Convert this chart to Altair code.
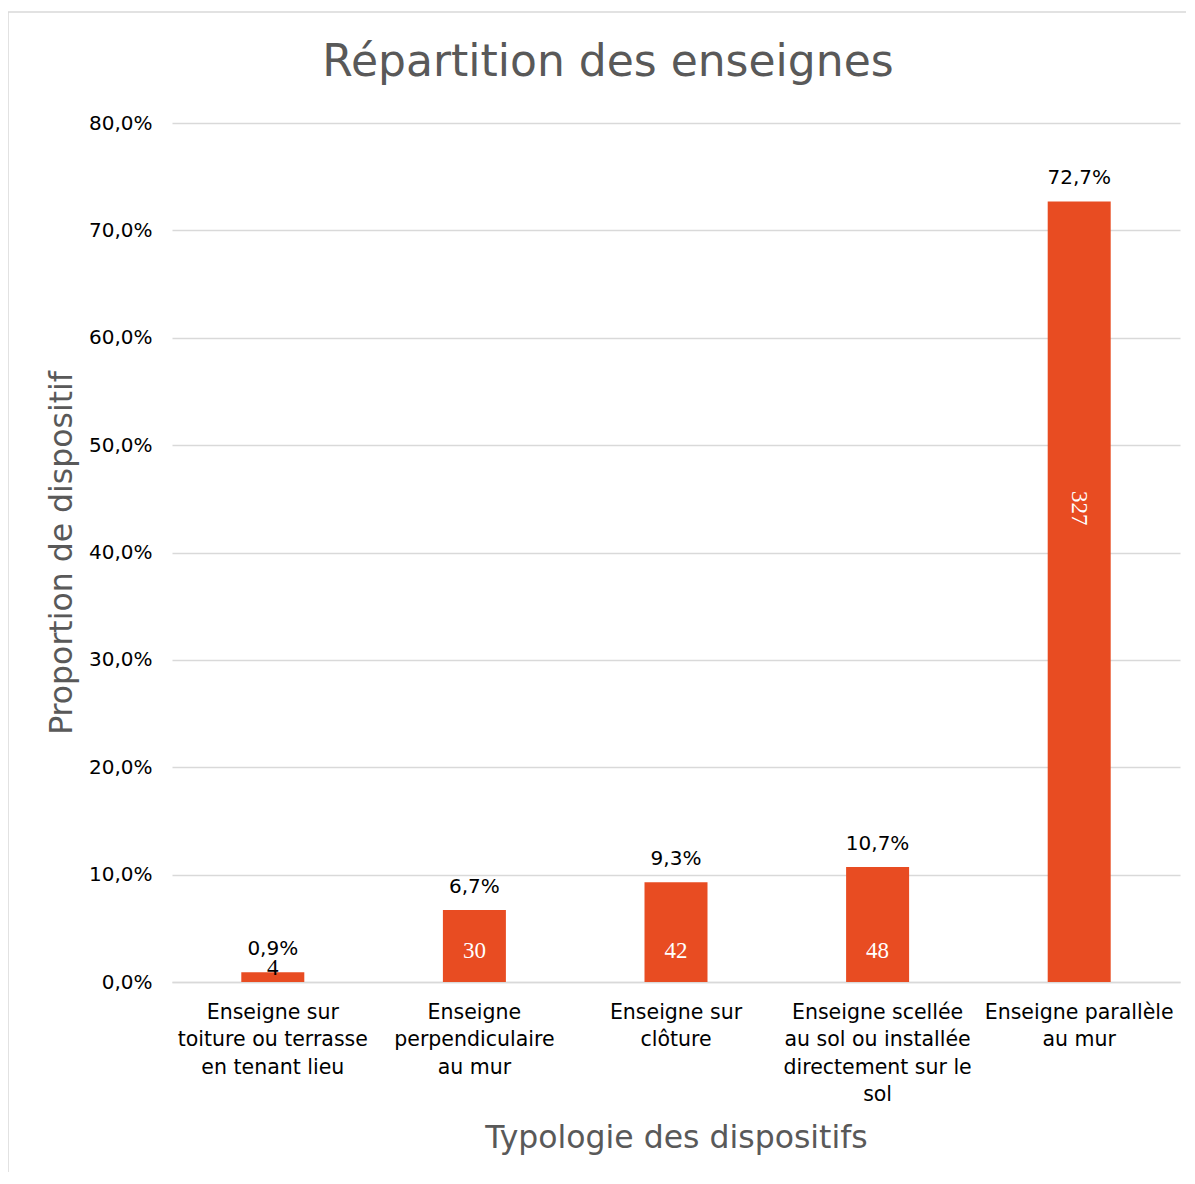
import altair as alt
import pandas as pd

categories = [
    "Enseigne sur|toiture ou terrasse|en tenant lieu",
    "Enseigne|perpendiculaire|au mur",
    "Enseigne sur|clôture",
    "Enseigne scellée|au sol ou installée|directement sur le|sol",
    "Enseigne parallèle|au mur",
]
percentages = [0.009, 0.067, 0.093, 0.107, 0.727]
counts = [4, 30, 42, 48, 327]

df = pd.DataFrame({"cat": categories, "pct": percentages, "n": counts})
df["pct_label"] = [f"{p*100:.1f}%".replace(".", ",") for p in percentages]

FONT = "DejaVu Sans"
W, H = 1008, 859
PL, PT, PR, PB = 164, 115, 6, 190

x_enc = alt.X(
    "cat:N",
    sort=categories,
    scale=alt.Scale(paddingInner=0.0, paddingOuter=0.0),
    axis=alt.Axis(
        title="Typologie des dispositifs",
        titleFont=FONT, titleFontSize=31.5, titleFontWeight="normal", titleColor="#595959",
        titleX=W / 2, titleY=156, titleBaseline="middle", titleAlign="center",
        labelExpr="split(datum.label, '|')",
        labelFont=FONT, labelFontSize=20.5, labelColor="#000000", labelLineHeight=27.5,
        labelAngle=0, labelPadding=20, labelBaseline="top", labelLimit=0, labelOverlap=False,
        ticks=False, domain=True, domainColor="#d9d9d9", domainWidth=1.5,
    ),
)
y_scale = alt.Scale(domain=[0, 0.8], nice=False)

bars = alt.Chart(df).mark_bar(size=63, color="#E84C22").encode(
    x=x_enc,
    y=alt.Y(
        "pct:Q",
        scale=y_scale,
        axis=alt.Axis(
            title="Proportion de dispositif",
            titleFont=FONT, titleFontSize=31.5, titleFontWeight="normal", titleColor="#595959",
            titleX=-110, titleY=H / 2, titleAngle=-90, titleAlign="center", titleBaseline="middle",
            values=[0, 0.1, 0.2, 0.3, 0.4, 0.5, 0.6, 0.7, 0.8],
            labelExpr="replace(format(datum.value, '.1%'), '.', ',')",
            labelFont=FONT, labelFontSize=20, labelColor="#000000", labelPadding=20,
            ticks=False, domain=False, grid=True, gridColor="#d9d9d9", gridWidth=1.5,
        ),
    ),
)

pct_text = alt.Chart(df).mark_text(
    font=FONT, fontSize=20, color="#000000", baseline="bottom", dy=-13
).encode(x=alt.X("cat:N", sort=categories), y=alt.Y("pct:Q", scale=y_scale), text="pct_label:N")

small = alt.Chart(df).transform_filter("datum.pct < 0.5").transform_calculate(
    ly="datum.pct < 0.03 ? 0.013 : 0.029"
).mark_text(font="Liberation Serif", fontSize=23, baseline="middle").encode(
    x=alt.X("cat:N", sort=categories),
    y=alt.Y("ly:Q", scale=y_scale),
    text="n:Q",
    color=alt.condition("datum.pct < 0.03", alt.value("#000000"), alt.value("#ffffff")),
)

big = alt.Chart(df).transform_filter("datum.pct >= 0.5").transform_calculate(
    ly="datum.pct * 0.607"
).mark_text(font="Liberation Serif", fontSize=23, baseline="middle", angle=90, color="#ffffff").encode(
    x=alt.X("cat:N", sort=categories),
    y=alt.Y("ly:Q", scale=y_scale),
    text="n:Q",
)

title_df = pd.DataFrame({"t": ["Répartition des enseignes"]})
title = alt.Chart(title_df).mark_text(
    font=FONT, fontSize=44, color="#595959", baseline="middle", align="center"
).encode(x=alt.value(436), y=alt.value(-60), text="t:N")

border = alt.Chart(title_df).mark_rect(fill=None, stroke="#d9d9d9", strokeWidth=1.5).encode(
    x=alt.value(-164), x2=alt.value(W + PR + 20), y=alt.value(-111), y2=alt.value(H + PB + 20)
)

chart = alt.layer(border, bars, pct_text, small, big, title).properties(
    width=W, height=H,
    autosize=alt.AutoSizeParams(type="none"),
    padding={"left": PL, "top": PT, "right": PR, "bottom": PB},
).configure_view(stroke=None)

chart.save("out.html", embed_options={"renderer": "svg", "actions": False})
